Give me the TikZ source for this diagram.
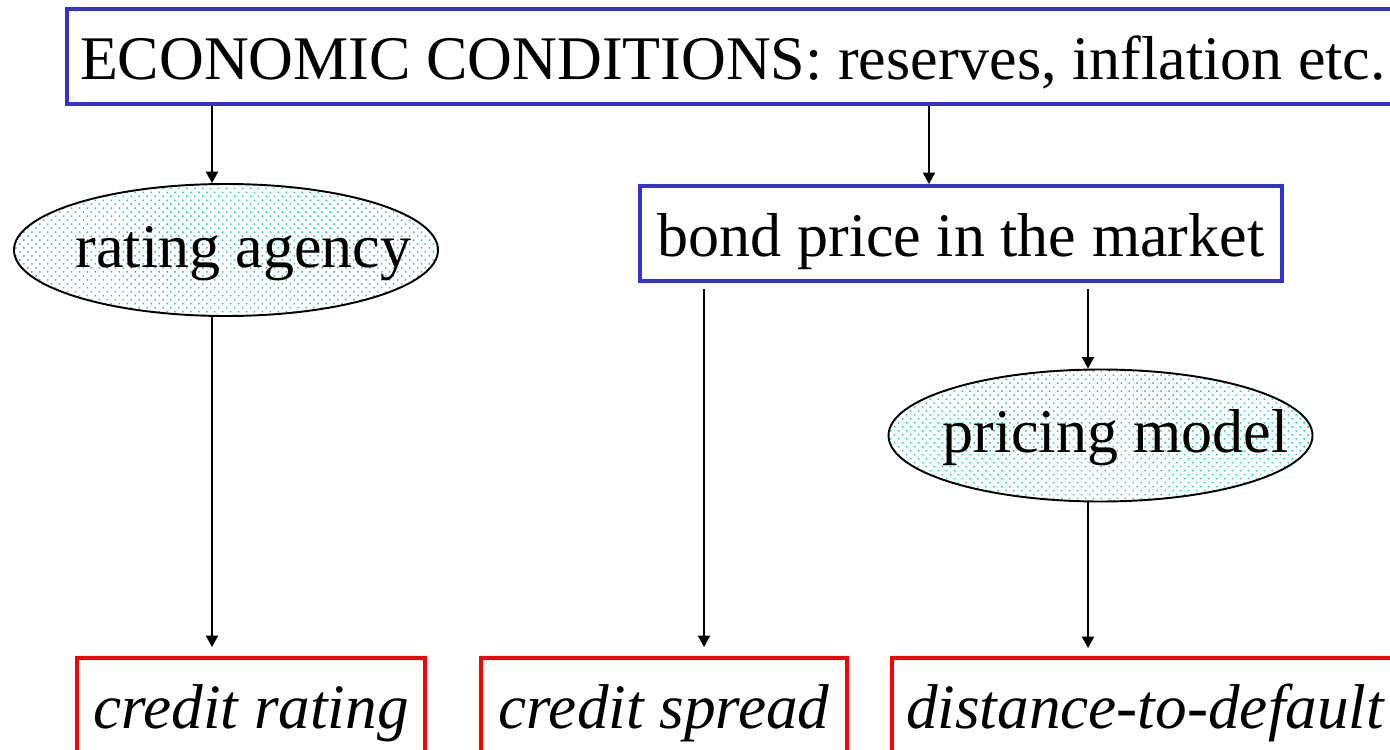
\documentclass[tikz,border=0pt]{standalone}
\usepackage{fontspec}
\setmainfont{Liberation Serif}
\usetikzlibrary{shapes.geometric,arrows.meta,patterns.meta}
\definecolor{boxblue}{RGB}{51,51,204}
\definecolor{dotteal}{RGB}{40,200,160}
\begin{document}
\begin{tikzpicture}[font=\fontsize{35.3}{40}\selectfont,
  bluebox/.style={draw=boxblue, line width=2.3pt, minimum height=1.9cm,
    inner sep=0pt, text height=0.9cm, text depth=0cm},
  redbox/.style={draw=red, line width=2.3pt, minimum height=1.9cm,
    inner sep=0pt, text height=0.9cm, text depth=0cm, font=\fontsize{36}{40}\selectfont\itshape},
  cloud/.style={ellipse, draw, line width=1.1pt, minimum width=8.48cm, minimum height=2.64cm,
    inner xsep=-0.9cm, inner ysep=0pt, text height=0.9cm, text depth=0.22cm,
    pattern={Dots[distance=3.2pt, angle=45, radius=0.6pt]}, pattern color=dotteal},
  arr/.style={-{Triangle[width=7pt, length=6.5pt]}, line width=0.8pt}]

\useasboundingbox (0,0) rectangle (27.8,-14.98);
\clip (0,0) rectangle (27.8,-14.98);

% Top level
\node[bluebox, minimum width=26.64cm] (econ) at (14.66,-1.13) {ECONOMIC CONDITIONS: reserves, inflation etc.};

% Second level
\node[cloud] (agency) at (4.52,-5.0) {\hspace*{0.7cm}rating agency};
\node[bluebox, minimum width=12.84cm] (bond) at (19.22,-4.67) {bond price in the market};
\node[cloud] (model) at (22.01,-8.71) {\hspace*{0.6cm}pricing model};

% Bottom level
\node[redbox, minimum width=6.96cm] (rating) at (5.02,-14.11) {credit rating};
\node[redbox, minimum width=7.32cm] (spread) at (13.28,-14.11) {credit spread};
\node[redbox, minimum width=10.12cm] (dtd) at (22.9,-14.11) {distance-to-default};

% Arrow columns
\coordinate (colA) at (4.24,0);
\coordinate (colB) at (18.58,0);
\coordinate (colC) at (14.08,0);
\coordinate (colD) at (21.76,0);

\draw[arr] (econ.south -| colA) -- (agency.north -| colA);
\draw[arr] (econ.south -| colB) -- (bond.north -| colB);
\draw[arr, shorten >=0.18cm] (agency.south -| colA) -- (rating.north -| colA);
\draw[arr, shorten <=0.12cm, shorten >=0.18cm] (bond.south -| colC) -- (spread.north -| colC);
\draw[arr, shorten <=0.12cm] (bond.south -| colD) -- (model.north -| colD);
\draw[arr, shorten >=0.16cm] (model.south -| colD) -- (dtd.north -| colD);

\end{tikzpicture}
\end{document}
